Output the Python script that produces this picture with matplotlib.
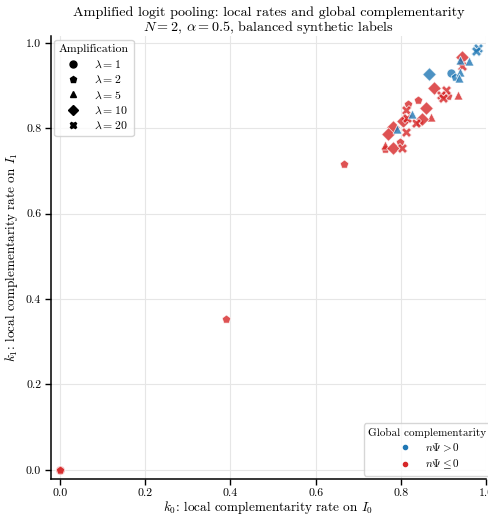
import matplotlib
matplotlib.use("Agg")
import matplotlib.pyplot as plt
from matplotlib.lines import Line2D
import numpy as np

plt.rcParams.update({
    "font.family": "serif",
    "font.serif": ["cmr10", "DejaVu Serif"],
    "mathtext.fontset": "cm",
    "axes.unicode_minus": False,
    "axes.formatter.use_mathtext": True,
})

# ---- data ----
k0_pos = [0.982, 0.977, 0.961, 0.938, 0.917, 0.940, 0.926, 0.936, 0.866, 0.827, 0.790]
k1_pos = [0.988, 0.981, 0.958, 0.960, 0.930, 0.931, 0.921, 0.918, 0.927, 0.833, 0.798]
lam_pos = [20, 20, 5, 5, 1, 5, 2, 5, 10, 5, 5]

k0_neg = [0.944, 0.944, 0.879, 0.907, 0.895, 0.899, 0.911, 0.933, 0.841, 0.817,
          0.813, 0.859, 0.871, 0.850, 0.836, 0.842, 0.814, 0.810, 0.806, 0.782,
          0.769, 0.811, 0.797, 0.763, 0.764, 0.782, 0.803, 0.666, 0.389, 0.0, 0.0]
k1_neg = [0.966, 0.945, 0.895, 0.890, 0.877, 0.871, 0.875, 0.877, 0.867, 0.858,
          0.842, 0.847, 0.827, 0.822, 0.813, 0.814, 0.824, 0.821, 0.817, 0.804,
          0.786, 0.791, 0.769, 0.761, 0.751, 0.753, 0.753, 0.717, 0.353, 0.0, 0.0]
lam_neg = [10, 20, 10, 20, 20, 20, 2, 5, 2, 2,
           20, 10, 5, 10, 20, 2, 20, 2, 10, 10,
           10, 20, 2, 5, 2, 10, 20, 2, 2, 1, 2]

lambdas = [1, 2, 5, 10, 20]
markers = {1: "o", 2: "p", 5: "^", 10: "D", 20: "X"}
sizes = {1: 42, 2: 42, 5: 42, 10: 48, 20: 52}
color_pos = "#1f77b4"
color_neg = "#d62728"

fig = plt.figure(figsize=(4.89, 5.16), dpi=100)
ax = fig.add_axes([0.104, 0.072, 0.890, 0.858])

for k0, k1, lam, col in [(k0_neg, k1_neg, lam_neg, color_neg),
                         (k0_pos, k1_pos, lam_pos, color_pos)]:
    k0 = np.array(k0); k1 = np.array(k1); lam = np.array(lam)
    for l in lambdas:
        m = lam == l
        if m.any():
            ax.scatter(k0[m], k1[m], marker=markers[l], s=sizes[l], c=col,
                       alpha=0.8, edgecolors="white", linewidths=0.6, zorder=3)

ax.set_xlim(-0.021, 1.0)
ax.set_ylim(-0.021, 1.016)
ticks = [0.0, 0.2, 0.4, 0.6, 0.8, 1.0]
ax.set_xticks(ticks)
ax.set_yticks(ticks)
ax.set_xticklabels([f"{t:.1f}" for t in ticks])
ax.set_yticklabels([f"{t:.1f}" for t in ticks])
ax.grid(True, color="#e6e6e6", linewidth=0.8, zorder=0)
ax.set_axisbelow(True)
for s in ["top", "right"]:
    ax.spines[s].set_visible(False)
for s in ["left", "bottom"]:
    ax.spines[s].set_linewidth(1.1)
ax.tick_params(direction="out", length=4, width=1, labelsize=8.5, pad=3)

ax.set_xlabel(r"$k_0$: local complementarity rate on $I_0$", fontsize=9.5, labelpad=1)
ax.set_ylabel(r"$k_1$: local complementarity rate on $I_1$", fontsize=9.5, labelpad=4)
ax.set_title("Amplified logit pooling: local rates and global complementarity\n"
             r"$N=2$, $\alpha=0.5$, balanced synthetic labels", fontsize=10.2,
             linespacing=0.95, pad=4)

handles1 = [Line2D([], [], marker=markers[l], color="black", linestyle="none",
                   markersize=5, label=rf"$\lambda={l}$") for l in lambdas]
leg1 = ax.legend(handles=handles1, title="Amplification", loc="upper left",
                 fontsize=8.5, title_fontsize=8.5, frameon=True, borderaxespad=0.3,
                 handletextpad=0.8, labelspacing=0.35)
leg1.get_frame().set_edgecolor("#cccccc")
ax.add_artist(leg1)

handles2 = [Line2D([], [], marker="o", color=color_pos, linestyle="none", markersize=3,
                   label=r"$n\Psi>0$"),
            Line2D([], [], marker="o", color=color_neg, linestyle="none", markersize=3,
                   label=r"$n\Psi\leq 0$")]
leg2 = ax.legend(handles=handles2, title="Global complementarity", loc="lower right",
                 bbox_to_anchor=(1.018, 0.0),
                 fontsize=8, title_fontsize=8, frameon=True, borderaxespad=0.3,
                 labelspacing=0.35)
leg2.get_frame().set_edgecolor("#cccccc")

fig.savefig("out.png", dpi=100)
